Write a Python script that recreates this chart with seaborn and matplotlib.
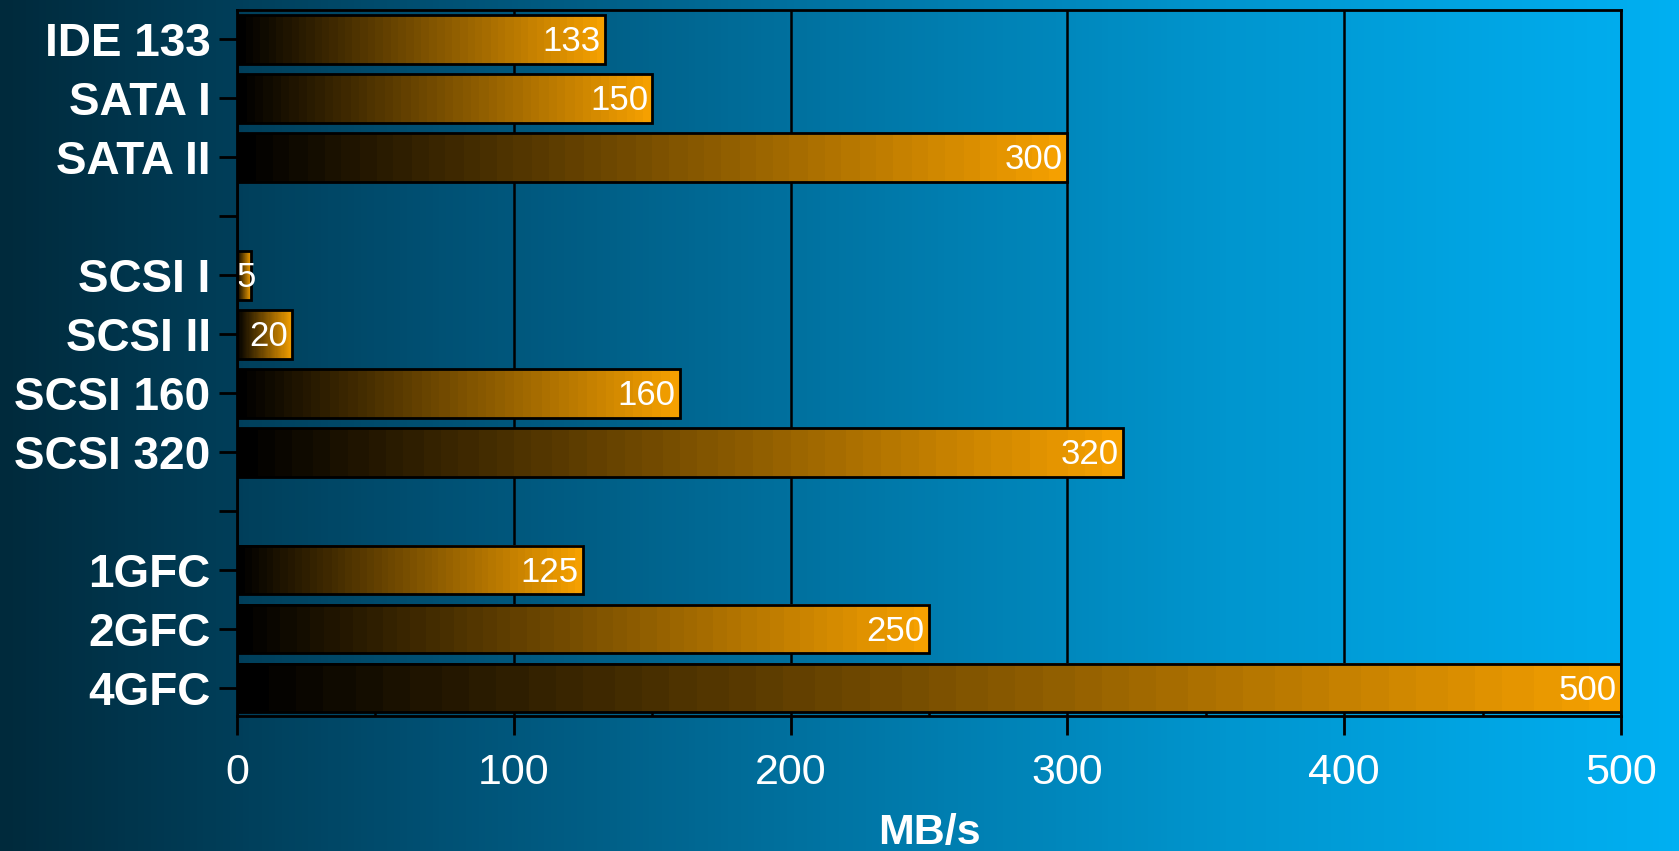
import numpy as np
import pandas as pd
import seaborn as sns
import matplotlib
matplotlib.use("Agg")
import matplotlib.pyplot as plt
from matplotlib.colors import LinearSegmentedColormap
from matplotlib.ticker import MultipleLocator
import matplotlib.transforms as mtransforms

# ---- data ----
interfaces = ["IDE 133", "SATA I", "SATA II", "SCSI I", "SCSI II",
              "SCSI 160", "SCSI 320", "1GFC", "2GFC", "4GFC"]
speeds = [133, 150, 300, 5, 20, 160, 320, 125, 250, 500]
row_order = ["IDE 133", "SATA I", "SATA II", "gap1", "SCSI I", "SCSI II",
             "SCSI 160", "SCSI 320", "gap2", "1GFC", "2GFC", "4GFC"]
row_labels = ["IDE 133", "SATA I", "SATA II", "", "SCSI I", "SCSI II",
              "SCSI 160", "SCSI 320", "", "1GFC", "2GFC", "4GFC"]
x_ticks = [0, 100, 200, 300, 400, 500]
x_label = "MB/s"

df = pd.DataFrame({"iface": interfaces, "speed": speeds})

sns.set_theme(style="white")
plt.rcParams["font.family"] = ["Liberation Sans", "DejaVu Sans"]

W, H, DPI = 1679, 851, 100
fig = plt.figure(figsize=(W / DPI, H / DPI), dpi=DPI)

# background gradient over the whole figure
bg_ax = fig.add_axes([0, 0, 1, 1], zorder=-10)
bg_cmap = LinearSegmentedColormap.from_list(
    "bg",
    [(0.0, (0 / 255, 42 / 255, 60 / 255)),
     (0.256, (0 / 255, 80 / 255, 115 / 255)),
     (0.494, (0 / 255, 116 / 255, 163 / 255)),
     (0.733, (0 / 255, 150 / 255, 207 / 255)),
     (1.0, (0 / 255, 176 / 255, 242 / 255))])
bg_ax.imshow(np.linspace(0, 1, 512)[None, :], cmap=bg_cmap, aspect="auto",
             extent=(0, 1, 0, 1))
bg_ax.set_axis_off()

ax = fig.add_axes([237 / W, 1 - 716 / H, (1621 - 237) / W, (716 - 10) / H])
ax.set_facecolor("none")

sns.barplot(data=df, x="speed", y="iface", order=row_order, orient="h",
            width=0.82, color="#f5a000", edgecolor="black", linewidth=2.0,
            ax=ax, zorder=3)

bar_cmap = LinearSegmentedColormap.from_list("bar", ["#000000", "#f5a000"], N=48)
grad = np.linspace(0, 1, 256)[None, :]
for p in ax.patches:
    x0, y0, w, h = p.get_x(), p.get_y(), p.get_width(), p.get_height()
    ax.imshow(grad, cmap=bar_cmap, aspect="auto", extent=(x0, x0 + w, y0 + h, y0),
              zorder=2.5, interpolation="nearest")
    p.set_facecolor("none")
    p.set_zorder(3)
    val = w
    if val < 10:
        off = mtransforms.offset_copy(ax.transData, fig=fig, x=0, y=-1.5, units="points")
        ax.text(x0, y0 + h / 2, f"{val:g}", ha="left", va="center",
                color="white", fontsize=25, zorder=4, transform=off)
    else:
        off = mtransforms.offset_copy(ax.transData, fig=fig, x=-3, y=-1.5, units="points")
        ax.text(x0 + w, y0 + h / 2, f"{val:g}", ha="right", va="center",
                color="white", fontsize=25, zorder=4, transform=off)

ax.set_xlim(0, 500)
ax.set_ylim(11.47, -0.5)
ax.set_xticks(x_ticks)
ax.set_xticklabels([str(t) for t in x_ticks])
ax.xaxis.set_minor_locator(MultipleLocator(50))
ax.set_yticks(range(len(row_order)))
ax.set_yticklabels(row_labels)

ax.grid(axis="x", color="black", linewidth=1.8, zorder=1)
ax.set_axisbelow(True)
for s in ax.spines.values():
    s.set_visible(True)
    s.set_color("black")
    s.set_linewidth(2.0)
    s.set_zorder(5)

ax.tick_params(axis="y", which="major", direction="out", length=13, width=2.0,
               color="black", left=True, labelsize=33, labelcolor="white", pad=6)
for lab in ax.get_yticklabels():
    lab.set_fontweight("bold")
ax.tick_params(axis="x", which="major", direction="out", length=14, width=2.0,
               color="black", bottom=True, labelsize=31, labelcolor="white", pad=13)
ax.tick_params(axis="x", which="minor", direction="in", length=6, width=1.8,
               color="black", bottom=True)

ax.set_ylabel("")
ax.set_xlabel(x_label, color="white", fontsize=31, fontweight="bold", labelpad=14)

fig.savefig("out.png", dpi=DPI)
